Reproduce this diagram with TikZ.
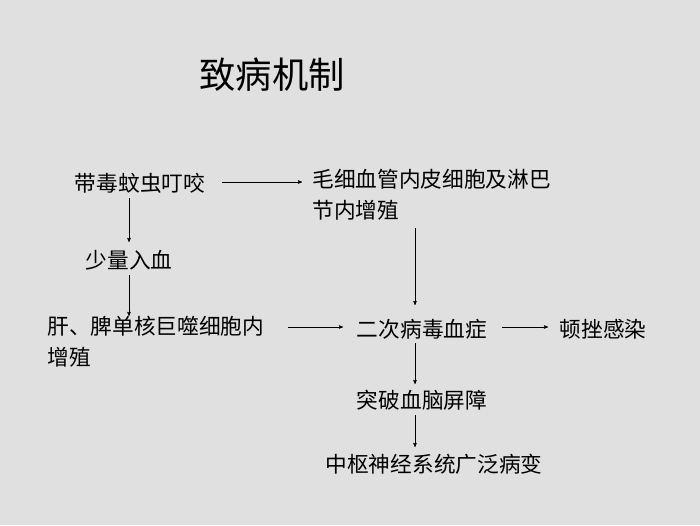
\documentclass[tikz,border=0pt]{standalone}
\usepackage{fontspec}
\setmainfont{Noto Sans CJK SC}
\usetikzlibrary{arrows,positioning}
\tikzset{
    txt/.style={
           inner sep=1pt,
           font=\fontsize{18.5}{26}\selectfont,
           },
}
\begin{document}
\begin{tikzpicture}[->,>=stealth',x=0.03cm,y=-0.03cm]
 \fill[black!12] (0,0) rectangle (700,525);
 \useasboundingbox (0,0) rectangle (700,525);

 \node[inner sep=0pt,font=\fontsize{31}{36}\selectfont] (title) at (272,75) {致病机制};

 \node[txt] (bite) at (140,183) {带毒蚊虫叮咬};
 \node[txt,anchor=north west,align=left] (endo) at (311,168)
 {毛细血管内皮细胞及淋巴\\节内增殖};
 \node[txt] (few) at (129,260) {少量入血};
 \node[txt,anchor=north west,align=left] (liver) at (46,315)
 {肝、脾单核巨噬细胞内\\增殖};
 \node[txt] (second) at (422,329) {二次病毒血症};
 \node[txt] (abort) at (603,329) {顿挫感染};
 \node[txt] (bbb) at (422,400) {突破血脑屏障};
 \node[txt] (cns) at (434,464) {中枢神经系统广泛病变};

 \coordinate (biteE) at (222,182);
 \coordinate (endoW) at (302,182);
 \coordinate (biteS) at (129,198);
 \coordinate (fewN) at (129,242);
 \coordinate (fewS) at (129,275);
 \coordinate (liverN) at (129,316);
 \coordinate (liverE) at (288,327);
 \coordinate (secW) at (343,327);
 \coordinate (secE) at (502,327);
 \coordinate (abortW) at (548,327);
 \coordinate (endoS) at (415,228);
 \coordinate (secN) at (415,305);
 \coordinate (secS) at (415,343);
 \coordinate (bbbN) at (415,384);
 \coordinate (bbbS) at (415,415);
 \coordinate (cnsN) at (415,447);

 \path (biteE) edge (endoW)
       (biteS) edge (fewN)
       (fewS) edge (liverN)
       (liverE) edge (secW)
       (endoS) edge (secN)
       (secE) edge (abortW)
       (secS) edge (bbbN)
       (bbbS) edge (cnsN);
\end{tikzpicture}
\end{document}
